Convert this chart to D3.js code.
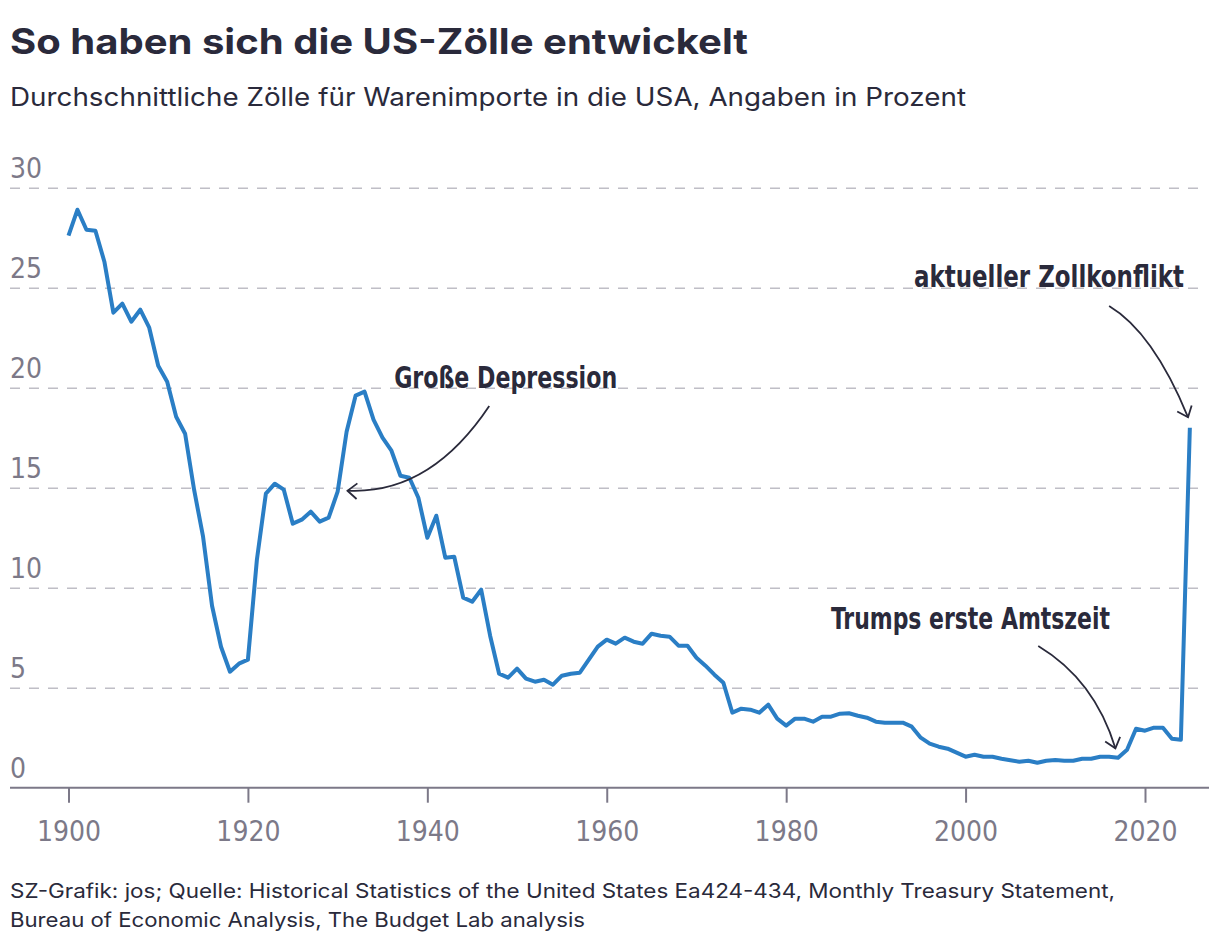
<!DOCTYPE html>
<html>
<head>
	<meta charset="utf-8">
	<title>So haben sich die US-Zölle entwickelt</title>
	<script src="https://d3js.org/d3.v7.min.js"></script>
	<style>
		body { margin: 0; background: #fff; }
		.cond { font-family: "Liberation Sans Narrow", "DejaVu Sans Condensed", "Roboto", sans-serif; font-stretch: condensed; }
		.sans { font-family: "Inter", "Noto Sans", sans-serif; }
	</style>
</head>
<body>
	<script>
		var width = 1220;
		var height = 948;

		var years = [1900, 1901, 1902, 1903, 1904, 1905, 1906, 1907, 1908, 1909,
			1910, 1911, 1912, 1913, 1914, 1915, 1916, 1917, 1918, 1919,
			1920, 1921, 1922, 1923, 1924, 1925, 1926, 1927, 1928, 1929,
			1930, 1931, 1932, 1933, 1934, 1935, 1936, 1937, 1938, 1939,
			1940, 1941, 1942, 1943, 1944, 1945, 1946, 1947, 1948, 1949,
			1950, 1951, 1952, 1953, 1954, 1955, 1956, 1957, 1958, 1959,
			1960, 1961, 1962, 1963, 1964, 1965, 1966, 1967, 1968, 1969,
			1970, 1971, 1972, 1973, 1974, 1975, 1976, 1977, 1978, 1979,
			1980, 1981, 1982, 1983, 1984, 1985, 1986, 1987, 1988, 1989,
			1990, 1991, 1992, 1993, 1994, 1995, 1996, 1997, 1998, 1999,
			2000, 2001, 2002, 2003, 2004, 2005, 2006, 2007, 2008, 2009,
			2010, 2011, 2012, 2013, 2014, 2015, 2016, 2017, 2018, 2019,
			2020, 2021, 2022, 2023, 2024, 2025];

		// durchschnittlicher Zollsatz in Prozent
		var tariffs = [27.6, 28.9, 27.9, 27.85, 26.3, 23.75, 24.2, 23.3, 23.9, 23.0,
			21.1, 20.3, 18.55, 17.7, 14.9, 12.55, 9.1, 7.05, 5.8, 6.2,
			6.4, 11.4, 14.7, 15.2, 14.9, 13.2, 13.4, 13.8, 13.3, 13.5,
			14.8, 17.8, 19.6, 19.8, 18.4, 17.5, 16.85, 15.6, 15.5, 14.5,
			12.5, 13.6, 11.5, 11.55, 9.5, 9.3, 9.9, 7.6, 5.7, 5.5,
			5.95, 5.45, 5.3, 5.4, 5.15, 5.6, 5.7, 5.75, 6.4, 7.05,
			7.4, 7.2, 7.5, 7.3, 7.2, 7.7, 7.6, 7.55, 7.1, 7.1,
			6.5, 6.1, 5.65, 5.25, 3.75, 3.95, 3.9, 3.75, 4.15, 3.45,
			3.1, 3.45, 3.45, 3.3, 3.55, 3.55, 3.7, 3.72, 3.6, 3.5,
			3.3, 3.25, 3.25, 3.25, 3.05, 2.5, 2.2, 2.05, 1.95, 1.75,
			1.55, 1.65, 1.55, 1.55, 1.45, 1.37, 1.3, 1.35, 1.25, 1.35,
			1.38, 1.35, 1.35, 1.45, 1.45, 1.55, 1.55, 1.5, 1.9, 2.95,
			2.85, 3.0, 3.0, 2.45, 2.4, 18.0];

		var xTicks = [1900, 1920, 1940, 1960, 1980, 2000, 2020];
		var yTicks = [0, 5, 10, 15, 20, 25, 30];

		var title = "So haben sich die US-Zölle entwickelt";
		var subtitle = "Durchschnittliche Zölle für Warenimporte in die USA, Angaben in Prozent";
		var source = ["SZ-Grafik: jos; Quelle: Historical Statistics of the United States Ea424-434, Monthly Treasury Statement,",
			"Bureau of Economic Analysis, The Budget Lab analysis"];

		// Beschriftungen: Text und Pfeil, in Jahr / Prozent
		var labels = ["Große Depression", "aktueller Zollkonflikt", "Trumps erste Amtszeit"];
		var labelAt = [[1936.3, 19.98], [1994.25, 25.02], [1985.0, 7.94]];
		var arrowFrom = [[1946.9, 19.08], [2016.0, 24.08], [2008.1, 7.09]];
		var arrowVia = [[1940.3, 14.64], [2020.9, 22.77], [2014.4, 5.39]];
		var arrowTo = [[1931.1, 14.85], [2024.8, 18.52], [2016.7, 1.97]];

		var ink = "#2a2a3b";
		var grey = "#7c7988";

		var x = d3.scaleLinear().domain([1900, 2020]).range([68.5, 1145]);
		var y = d3.scaleLinear().domain([0, 30]).range([787.7, 187.7]);

		var svg = d3.select("body").append("svg").attr("width", width).attr("height", height);

		svg.append("defs").append("marker")
			.attr("id", "head")
			.attr("viewBox", "-14 -10 16 20")
			.attr("refX", 0).attr("refY", 0)
			.attr("markerWidth", 16).attr("markerHeight", 20)
			.attr("markerUnits", "userSpaceOnUse")
			.attr("orient", "auto")
			.append("path")
			.attr("d", "M-9.5,-7.8L0,0L-9.5,7.8")
			.attr("fill", "none")
			.attr("stroke", ink)
			.attr("stroke-width", 1.8);

		svg.append("text").attr("class", "sans")
			.attr("x", 10).attr("y", 54)
			.attr("font-size", 35).attr("font-weight", 700).attr("fill", ink)
			.attr("textLength", 738).attr("lengthAdjust", "spacingAndGlyphs")
			.text(title);

		svg.append("text").attr("class", "sans")
			.attr("x", 10).attr("y", 106)
			.attr("font-size", 25).attr("fill", ink)
			.attr("textLength", 956).attr("lengthAdjust", "spacingAndGlyphs")
			.text(subtitle);

		svg.append("g").attr("class", "sans")
			.selectAll("text")
			.data(source)
			.enter().append("text")
			.attr("x", 10)
			.attr("y", function(d, i){ return 898 + i * 29; })
			.attr("font-size", 20).attr("fill", ink)
			.attr("textLength", function(d, i){ return i == 0 ? 1105 : 575; })
			.attr("lengthAdjust", "spacingAndGlyphs")
			.text(function(d){ return d; });

		// Gitterlinien und y-Beschriftung
		var yAxis = svg.append("g").attr("class", "cond")
			.attr("transform", "translate(10,0)")
			.call(d3.axisRight(y).tickValues(yTicks).tickSize(1190).tickFormat(d3.format("d")));
		yAxis.select(".domain").remove();
		yAxis.selectAll(".tick line")
			.attr("stroke", "#bfbec6").attr("stroke-width", 1.6).attr("stroke-dasharray", "10,9")
			.filter(function(d){ return d == 0; }).remove();
		yAxis.selectAll(".tick text")
			.attr("x", 0).attr("dy", 0).attr("y", -10)
			.attr("text-anchor", "start")
			.attr("font-size", 28).attr("fill", grey)
			.attr("font-family", null);

		// x-Achse
		var xAxis = svg.append("g").attr("class", "cond")
			.attr("transform", "translate(0," + y(0) + ")")
			.call(d3.axisBottom(x).tickValues(xTicks).tickSize(15).tickSizeOuter(0).tickPadding(18).tickFormat(d3.format("d")));
		xAxis.select(".domain").remove();
		xAxis.selectAll(".tick line").attr("stroke", grey).attr("stroke-width", 2);
		xAxis.selectAll(".tick text")
			.attr("font-size", 28).attr("fill", grey)
			.attr("font-family", null);

		svg.append("line")
			.attr("x1", 10).attr("x2", 1209)
			.attr("y1", y(0)).attr("y2", y(0))
			.attr("stroke", grey).attr("stroke-width", 2);

		var line = d3.line()
			.x(function(d, i){ return x(years[i]); })
			.y(function(d){ return y(d); });

		svg.append("path")
			.datum(tariffs)
			.attr("d", line)
			.attr("fill", "none")
			.attr("stroke", "#2a7ec5")
			.attr("stroke-width", 4)
			.attr("stroke-linejoin", "round");

		// Anmerkungen
		var notes = svg.append("g");
		notes.selectAll("path")
			.data(labels)
			.enter().append("path")
			.attr("d", function(d, i){
				var p = d3.path();
				p.moveTo(x(arrowFrom[i][0]), y(arrowFrom[i][1]));
				p.quadraticCurveTo(x(arrowVia[i][0]), y(arrowVia[i][1]), x(arrowTo[i][0]), y(arrowTo[i][1]));
				return p.toString();
			})
			.attr("fill", "none")
			.attr("stroke", ink)
			.attr("stroke-width", 1.8)
			.attr("marker-end", "url(#head)");

		notes.selectAll("text")
			.data(labels)
			.enter().append("text")
			.attr("class", "cond")
			.attr("x", function(d, i){ return x(labelAt[i][0]); })
			.attr("y", function(d, i){ return y(labelAt[i][1]); })
			.attr("font-size", 31).attr("font-weight", 700).attr("fill", ink)
			.attr("textLength", function(d, i){ return [223, 270, 279][i]; })
			.attr("lengthAdjust", "spacingAndGlyphs")
			.text(function(d){ return d; });
	</script>
</body>
</html>
